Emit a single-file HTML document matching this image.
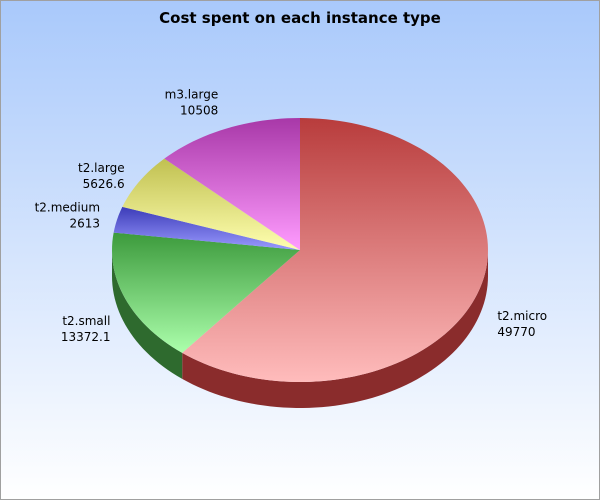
<!DOCTYPE html>
<html><head><meta charset="utf-8"><style>
body{margin:0;width:600px;height:500px;overflow:hidden}
svg{display:block;font-family:"DejaVu Sans","Liberation Sans",sans-serif}
</style></head><body>
<svg id="chart" width="600" height="500">
<defs>
<linearGradient id="bg" x1="0" y1="0" x2="0" y2="1"><stop offset="0" stop-color="#a9c9fb"/><stop offset="1" stop-color="#ffffff"/></linearGradient>
</defs>
<rect x="0.5" y="0.5" width="599" height="499" fill="url(#bg)" stroke="#a0a0a0"/>
<text x="300" y="23" text-anchor="middle" font-size="15" font-weight="bold" fill="#000">Cost spent on each instance type</text>
<g id="pie"></g>
</svg>
<script>
const categories=["t2.micro","t2.small","t2.medium","t2.large","m3.large"];
const values=[49770,13372.1,2613,5626.6,10508];
const valueLabels=["49770","13372.1","2613","5626.6","10508"];
const topColors=["#b83c3c","#3c9a3c","#3c3cb8","#c0c050","#a838a8"];
const botColors=["#ffbcbc","#acffac","#9a9aff","#ffffb0","#ff9cff"];
const sideColors=["#8a2c2c","#2e6a2e","#2a2a80","#8a8a3a","#7a2a7a"];
const lblDx=[20,-15,-17,-15,-8], lblDy=[26,26,-8,-9,-30], lblAnchor=["start","end","end","end","end"];
const cx=300,cy=250,rx=188,ry=132,depth=26;
const NS="http://www.w3.org/2000/svg";
const g=document.getElementById("pie"),defs=document.querySelector("defs");
const total=values.reduce((a,b)=>a+b,0);
function pt(a,dy){const r=a*Math.PI/180;return [cx+rx*Math.sin(r),cy-ry*Math.cos(r)+(dy||0)];}
function arc(a0,a1,dy){let s="";const n=Math.max(2,Math.ceil(Math.abs(a1-a0)/2));for(let i=0;i<=n;i++){const p=pt(a0+(a1-a0)*i/n,dy);s+=(i?"L":"")+p[0].toFixed(2)+","+p[1].toFixed(2);}return s;}
let a=0;const angles=[];
values.forEach(v=>{const s=v/total*360;angles.push([a,a+s]);a+=s;});
angles.forEach(([a0,a1],i)=>{
 const s0=Math.max(a0,90),s1=Math.min(a1,270);
 if(s1>s0){
  const p=document.createElementNS(NS,"path");
  p.setAttribute("d","M"+arc(s0,s1,0)+"L"+arc(s1,s0,depth)+"Z");
  p.setAttribute("fill",sideColors[i]);
  
  
  g.appendChild(p);
 }
});
angles.forEach(([a0,a1],i)=>{
 const gr=document.createElementNS(NS,"linearGradient");
 gr.setAttribute("id","g"+i);gr.setAttribute("gradientUnits","userSpaceOnUse");
 gr.setAttribute("x1",0);gr.setAttribute("x2",0);
 let mn=cy,mx=cy;for(let t=a0;t<=a1;t+=1){const y=pt(t)[1];mn=Math.min(mn,y);mx=Math.max(mx,y);}
 const ye=pt(a1)[1];mn=Math.min(mn,ye);mx=Math.max(mx,ye);
 gr.setAttribute("y1",mn);gr.setAttribute("y2",mx);
 gr.innerHTML='<stop offset="0" stop-color="'+topColors[i]+'"/><stop offset="1" stop-color="'+botColors[i]+'"/>';
 defs.appendChild(gr);
 const p=document.createElementNS(NS,"path");
 p.setAttribute("d","M"+cx+","+cy+"L"+arc(a0,a1,0)+"Z");
 p.setAttribute("fill","url(#g"+i+")");
 
 
 g.appendChild(p);
 const m=pt((a0+a1)/2);
 const t=document.createElementNS(NS,"text");
 t.setAttribute("x",m[0]+lblDx[i]);t.setAttribute("y",m[1]+lblDy[i]);
 t.setAttribute("text-anchor",lblAnchor[i]);t.setAttribute("font-size","12");t.setAttribute("fill","#000");
 
 
 t.innerHTML='<tspan x="'+(m[0]+lblDx[i])+'">'+categories[i]+'</tspan><tspan x="'+(m[0]+lblDx[i])+'" dy="16">'+valueLabels[i]+'</tspan>';
 g.appendChild(t);
});
</script>
</body></html>
